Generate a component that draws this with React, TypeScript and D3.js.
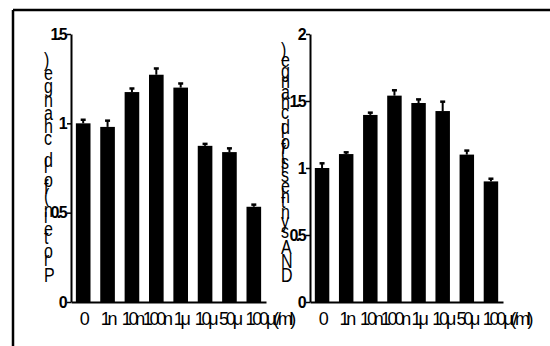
import React, { useEffect, useRef } from "react";
import * as d3 from "d3";

// doses on the x axis (last one carries the unit)
const doses = ["0", "1n", "10n", "100n", "1μ", "10μ", "50μ", "100μ"];
const unitLabel = "(/ml)";

// left panel: protein, fold change
const proteinMean = [1.0, 0.98, 1.175, 1.272, 1.2, 0.874, 0.839, 0.533];
const proteinErr = [0.02, 0.035, 0.02, 0.035, 0.023, 0.011, 0.021, 0.012];
const proteinTicks = [0, 0.5, 1, 1.5];

// right panel: DNA synthesis, fold change
const dnaMean = [1.0, 1.104, 1.396, 1.54, 1.485, 1.425, 1.1, 0.9];
const dnaErr = [0.035, 0.013, 0.017, 0.04, 0.027, 0.07, 0.03, 0.02];
const dnaTicks = [0, 0.5, 1, 1.5, 2];

const yLabels = ["Protein(fold change)", "DNA synthesis(fold change)"];

const W = 550;
const H = 346;
const FONT = "'Liberation Sans', Arial, sans-serif";

function drawPanel(svg, opts) {
  const { x0, x1, yTop, yBottom, ymax, ticks, mean, err, label, labelX, labelLen } = opts;
  const g = svg.append("g");

  const x = d3.scaleBand().domain(doses).range([x0, x1]).paddingInner(0.4).paddingOuter(0.2);
  const y = d3.scaleLinear().domain([0, ymax]).range([yBottom, yTop]);

  // bars
  g.selectAll("rect.bar").data(mean).join("rect").attr("class", "bar")
    .attr("x", (d, i) => x(doses[i]))
    .attr("width", x.bandwidth())
    .attr("y", d => y(d))
    .attr("height", d => yBottom - y(d))
    .attr("fill", "#000");

  // error bars (upper only)
  const cx = i => x(doses[i]) + x.bandwidth() / 2;
  g.selectAll("line.err").data(mean).join("line").attr("class", "err")
    .attr("x1", (d, i) => cx(i)).attr("x2", (d, i) => cx(i))
    .attr("y1", d => y(d)).attr("y2", (d, i) => y(d + err[i]))
    .attr("stroke", "#000").attr("stroke-width", 2);
  g.selectAll("line.cap").data(mean).join("line").attr("class", "cap")
    .attr("x1", (d, i) => cx(i) - 2.5).attr("x2", (d, i) => cx(i) + 2.5)
    .attr("y1", (d, i) => y(d + err[i])).attr("y2", (d, i) => y(d + err[i]))
    .attr("stroke", "#000").attr("stroke-width", 2.5);

  // y axis
  const yAxis = g.append("g").attr("transform", `translate(${x0},0)`)
    .call(d3.axisLeft(y).tickValues(ticks).tickSize(4).tickSizeOuter(0).tickPadding(2)
      .tickFormat(d => String(d)));
  yAxis.select(".domain").attr("stroke-width", 2);
  yAxis.selectAll(".tick line").attr("stroke-width", 1.5);
  yAxis.selectAll(".tick text")
    .attr("font-family", FONT).attr("font-size", 16).attr("font-weight", "bold")
    .attr("letter-spacing", -2.6).attr("fill", "#000");

  // x axis
  const xAxis = g.append("g").attr("transform", `translate(0,${yBottom})`)
    .call(d3.axisBottom(x).tickSize(0).tickSizeOuter(0).tickPadding(10));
  xAxis.select(".domain").attr("stroke-width", 2);
  xAxis.selectAll(".tick text")
    .attr("font-family", FONT).attr("font-size", 18).attr("fill", "#000")
    .attr("letter-spacing", -3.2);
  xAxis.selectAll(".tick text").filter((d, i) => i === doses.length - 1)
    .text(d => d + unitLabel)
    .attr("text-anchor", "start")
    .attr("x", -x.bandwidth() / 2 - 1);

  // y label: glyphs kept upright, stacked bottom to top
  g.append("text")
    .attr("transform", `translate(${labelX},${yBottom - 20}) scale(0.8,1) rotate(-90)`)
    .attr("rotate", "90")
    .attr("font-family", FONT).attr("font-size", 20).attr("fill", "#000")
    .attr("textLength", labelLen).attr("lengthAdjust", "spacing")
    .text(label);
}

export default function App() {
  const ref = useRef(null);

  useEffect(() => {
    const svg = d3.select(ref.current);
    svg.selectAll("*").remove();

    svg.append("rect").attr("width", W).attr("height", H).attr("fill", "#fff");

    // frame (top and left edges)
    svg.append("line").attr("x1", 13).attr("x2", W).attr("y1", 10).attr("y2", 10)
      .attr("stroke", "#000").attr("stroke-width", 2.5);
    svg.append("line").attr("x1", 13).attr("x2", 13).attr("y1", 10).attr("y2", H)
      .attr("stroke", "#000").attr("stroke-width", 2.5);

    drawPanel(svg, {
      x0: 71, x1: 266, yTop: 34, yBottom: 302, ymax: 1.5,
      ticks: proteinTicks, mean: proteinMean, err: proteinErr,
      label: yLabels[0], labelX: 44, labelLen: 222,
    });
    drawPanel(svg, {
      x0: 310, x1: 503, yTop: 34, yBottom: 302, ymax: 2,
      ticks: dnaTicks, mean: dnaMean, err: dnaErr,
      label: yLabels[1], labelX: 281, labelLen: 232,
    });
  }, []);

  return (
    <svg ref={ref} width={W} height={H}
      style={{ position: "absolute", left: 0, top: 0, display: "block" }} />
  );
}
